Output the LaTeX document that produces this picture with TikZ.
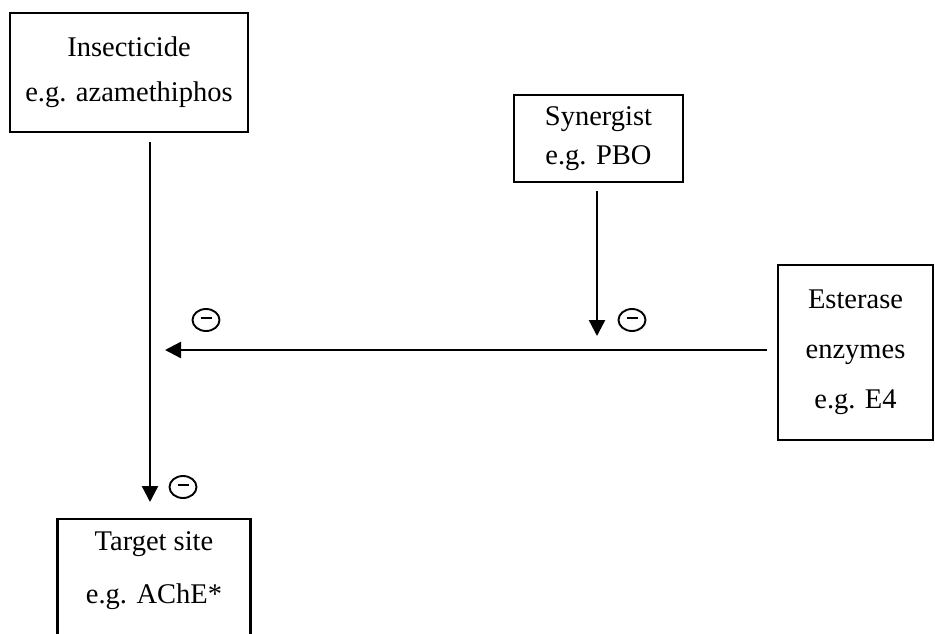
\documentclass[tikz,border=0pt]{standalone}
\usepackage{fontspec}
\setmainfont{Liberation Serif}
\usetikzlibrary{arrows.meta,shapes.geometric}
\begin{document}
\begin{tikzpicture}[x=1pt,y=-1pt,
  box/.style={draw,line width=2.2pt,align=center,inner sep=0pt,font=\fontsize{28.5}{45}\selectfont},
  arr/.style={line width=2.4pt,-{Triangle[length=16pt,width=16pt]}},
  minus/.style={draw,ellipse,line width=1.9pt,minimum width=27pt,minimum height=22pt,inner sep=0pt}]
\useasboundingbox (0,0) rectangle (935,634);
\node[box,minimum width=238pt,minimum height=119pt] (ins) at (129,72.5) {Insecticide\\e.g. azamethiphos};
\node[box,minimum width=169pt,minimum height=87pt,font=\fontsize{28.5}{39}\selectfont] (syn) at (598.5,138.5) {Synergist\\e.g. PBO};
\node[box,minimum width=155pt,minimum height=175pt,font=\fontsize{28.5}{50}\selectfont] (est) at (855.5,352.5) {Esterase\\enzymes\\e.g. E4};
\node[box,minimum width=193pt,minimum height=126pt,anchor=north] (tgt) at (154,518) {};
\node[font=\fontsize{28.5}{53}\selectfont,align=center] (tgttxt) at (154,571) {Target site\\e.g. AChE*};
\coordinate (a1s) at (150,142);
\coordinate (a1e) at (150,502);
\coordinate (a2s) at (597,191);
\coordinate (a2e) at (597,336);
\coordinate (a3s) at (767,350);
\coordinate (a3e) at (165,350);
\draw[arr] (a1s) -- (a1e);
\draw[arr] (a2s) -- (a2e);
\draw[arr] (a3s) -- (a3e);
\node[minus] (m1) at (206,320) {\rule[3.5pt]{11pt}{2.2pt}};
\node[minus] (m2) at (632,320) {\rule[3.5pt]{11pt}{2.2pt}};
\node[minus] (m3) at (183,487) {\rule[3.5pt]{11pt}{2.2pt}};
\end{tikzpicture}
\end{document}
